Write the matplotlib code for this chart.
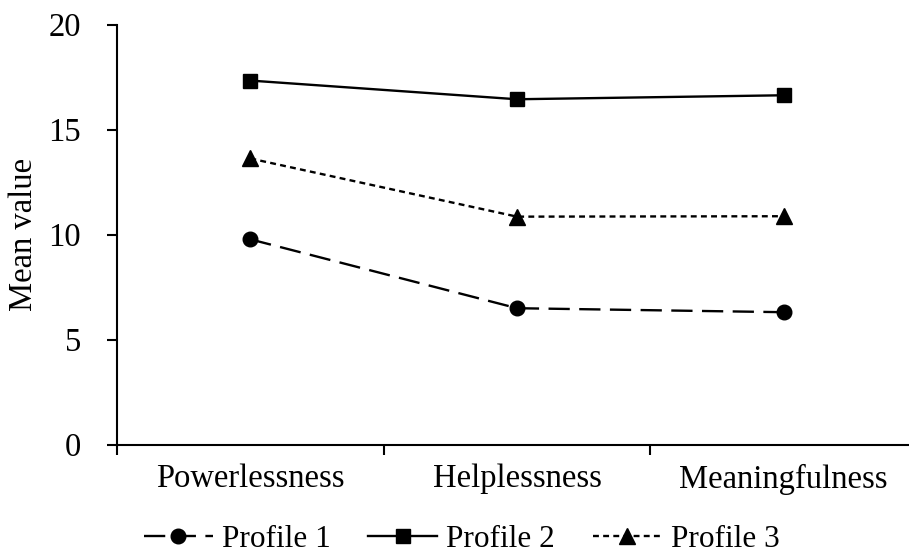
import matplotlib
matplotlib.use("Agg")
import matplotlib.pyplot as plt

categories = ["Powerlessness", "Helplessness", "Meaningfulness"]
profile1 = [9.77, 6.49, 6.30]
profile2 = [17.33, 16.44, 16.63]
profile3 = [13.62, 10.85, 10.87]
yticks = [0, 5, 10, 15, 20]

plt.rcParams['font.family'] = ['Liberation Serif', 'DejaVu Serif']

fig = plt.figure(figsize=(9.09, 5.56), dpi=100)
ax = fig.add_axes([117/909, 1-444.5/556, 800/909, 420/556])

x = list(range(len(categories)))
lw = 1.7
ax.plot(x, profile1, color='black', lw=lw, dashes=(9, 4), marker='o', markersize=10.5,
        label='Profile 1')
ax.plot(x, profile2, color='black', lw=lw, linestyle='-', marker='s', markersize=10.5,
        label='Profile 2')
ax.plot(x, profile3, color='black', lw=lw, dashes=(2.5, 1.8), marker='^', markersize=11,
        label='Profile 3')

ax.set_xlim(-0.5, 2.5)
ax.set_ylim(0, 20)
ax.set_yticks(yticks)
ax.set_yticklabels([str(v) for v in yticks])
ax.set_xticks([-0.5, 0.5, 1.5, 2.5])
ax.set_xticklabels([])
ax.set_xticks(x, minor=True)
ax.set_xticklabels(categories, minor=True)
ax.tick_params(axis='x', which='minor', length=0, pad=14, labelsize=23.5)
ax.tick_params(axis='x', which='major', direction='out', length=7, width=1.5)
ax.tick_params(axis='y', direction='out', length=7, width=1.5, pad=19, labelsize=23.5)

for s in ['top', 'right']:
    ax.spines[s].set_visible(False)
for s in ['left', 'bottom']:
    ax.spines[s].set_linewidth(1.5)

ax.set_ylabel('Mean value', fontsize=23.5)
ax.yaxis.set_label_coords(-0.098, 0.5)

fig.legend(loc='center', bbox_to_anchor=(0.508, 0.029), ncol=3, frameon=False,
           fontsize=22.5, handlelength=2.2, handletextpad=0.3, columnspacing=1.2)

fig.savefig('out.png', dpi=100)
